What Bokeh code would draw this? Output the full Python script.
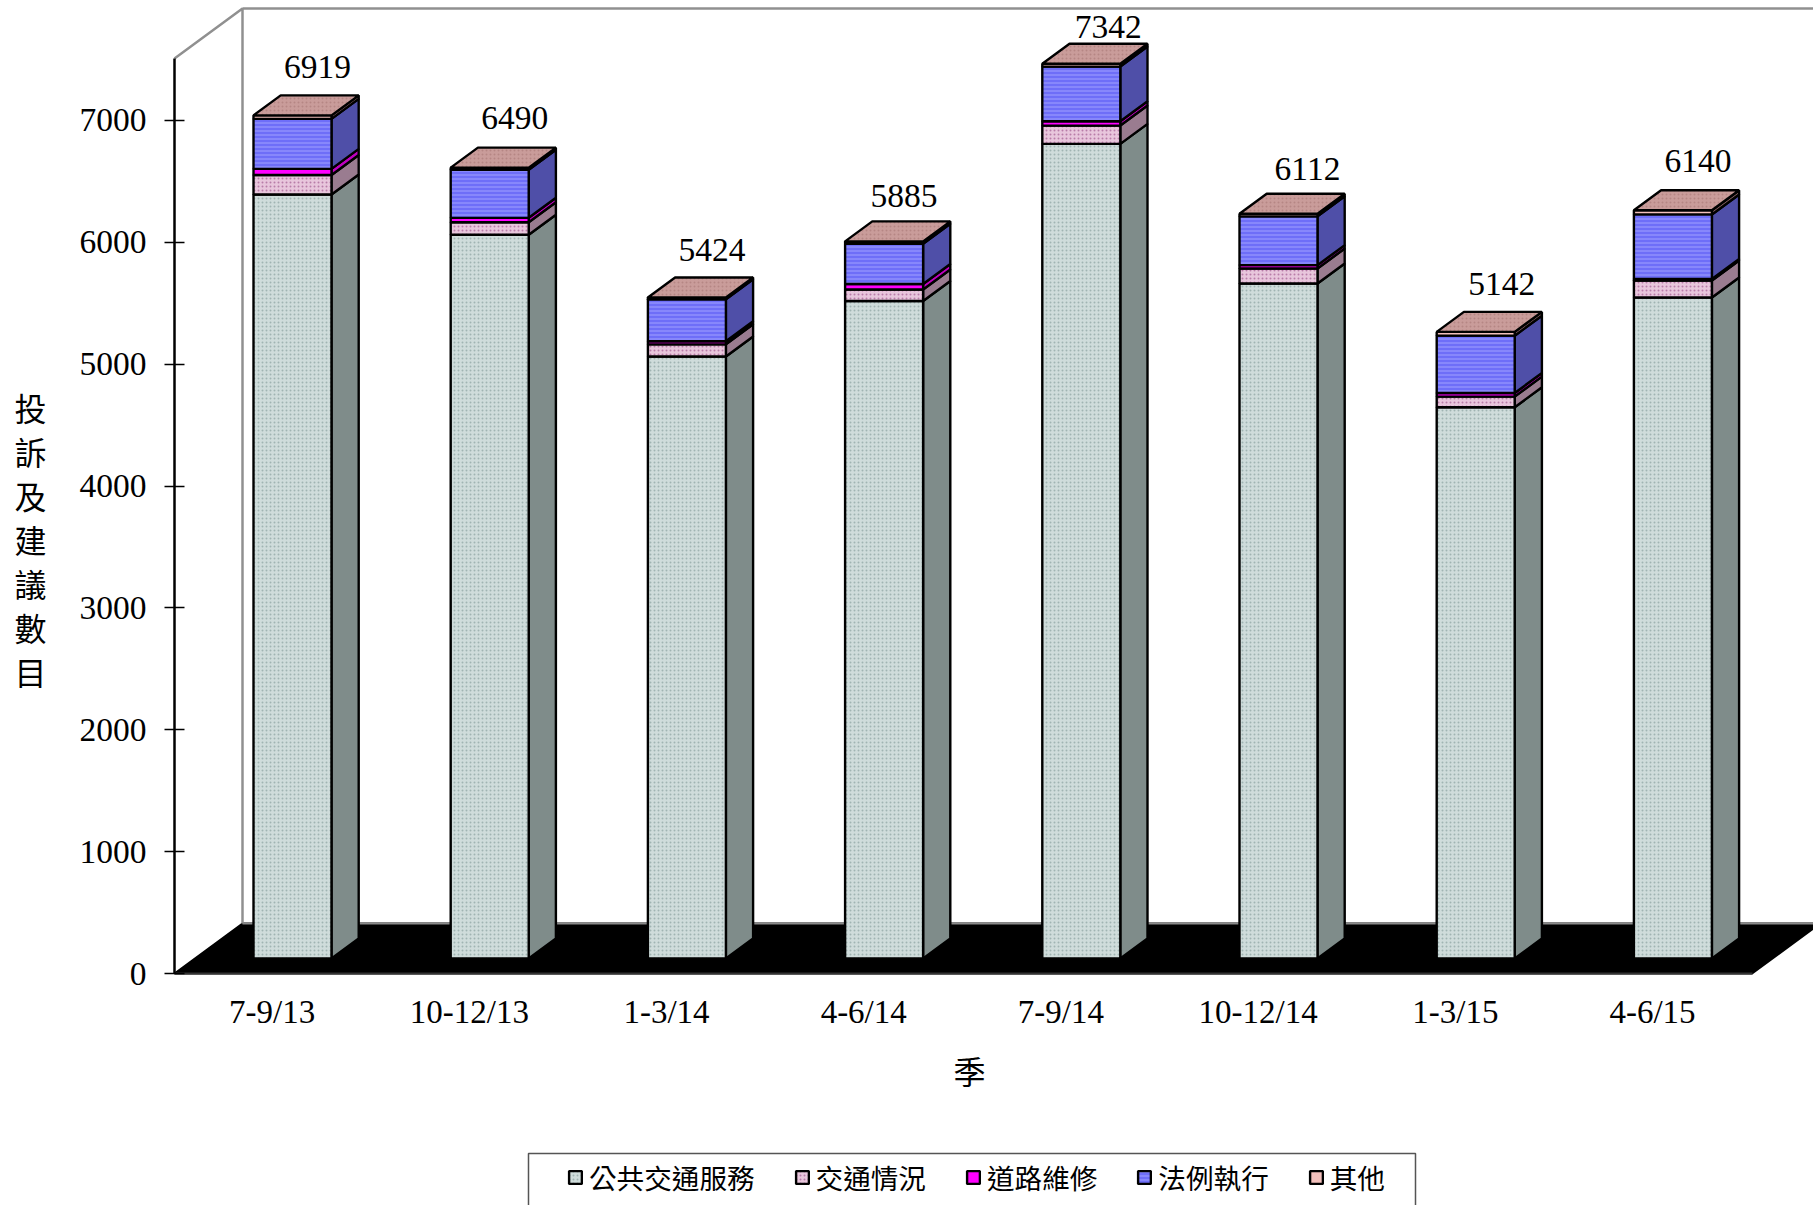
import numpy as np
from bokeh.core.properties import value
from bokeh.embed import file_html
from bokeh.models import FixedTicker, Legend, LegendItem, Range1d
from bokeh.plotting import figure
from bokeh.resources import INLINE

# Quarterly complaints and suggestions, by category
quarters = ["7-9/13", "10-12/13", "1-3/14", "4-6/14", "7-9/14", "10-12/14", "1-3/15", "4-6/15"]
public_transport = [6270, 5939, 4940, 5395, 6685, 5539, 4524, 5424]
traffic_conditions = [160, 103, 100, 95, 150, 123, 87, 140]
road_maintenance = [50, 36, 25, 45, 35, 28, 30, 12]
law_enforcement = [410, 394, 345, 330, 449, 400, 470, 530]
others = [29, 18, 14, 20, 23, 22, 31, 34]
y_ticks = [0, 1000, 2000, 3000, 4000, 5000, 6000, 7000]

series = [
    ("公共交通服務", public_transport, "#CFDCDB", "#7F8C8A", "dot", "#A0B4B2"),
    ("交通情況", traffic_conditions, "#E8C6DC", "#9A7C90", "dot", "#B87CA8"),
    ("道路維修", road_maintenance, "#FF00FF", "#C000C0", None, None),
    ("法例執行", law_enforcement, "#6E6EF8", "#4F4FA8", "horizontal_line", "#A0A0FF"),
    ("其他", others, "#F3C0BC", "#8A6464", None, None),
]

# Hand placement of the total labels, in pixels
label_nudge_x = [-1, -1, -1, -6, 1, 3, 0, -1]
label_nudge_y = [-1, -3, -1, 2, -1, 2, -1, -2]

WIDTH, HEIGHT = 1813, 1205
PX_PER_CATEGORY = 197.2
PX_PER_UNIT = 0.12186
ORIGIN_X, ORIGIN_Y = 174, 973

x_scale = lambda px: (px - ORIGIN_X) / PX_PER_CATEGORY
y_scale = lambda py: (ORIGIN_Y - py) / PX_PER_UNIT

p = figure(
    width=WIDTH, height=HEIGHT, output_backend="svg", toolbar_location=None,
    x_range=Range1d(x_scale(0), x_scale(WIDTH)),
    y_range=Range1d(y_scale(HEIGHT), y_scale(0)),
    min_border=0, outline_line_color=None,
)
p.grid.visible = False

# Oblique floor and walls
n = len(quarters)
depth_x, depth_y = 68 / PX_PER_CATEGORY, 50 / PX_PER_UNIT
wall_top = 7509
p.patch([0, depth_x, n + depth_x, n], [0, depth_y, depth_y, 0],
        fill_color="black", line_color="black", line_width=2)
p.line([0, depth_x, depth_x], [wall_top, wall_top + depth_y, depth_y],
       line_color="#909090", line_width=2.5)
p.line([depth_x, n + depth_x], [wall_top + depth_y] * 2, line_color="#909090", line_width=2.5)
p.line([depth_x, n + depth_x], [depth_y] * 2, line_color="#8A8A8A", line_width=2)

# Stacked prisms: each bar stands in the middle 40% of the floor depth
bar_width = 78 / PX_PER_CATEGORY
front_shift_x, front_shift_y = 0.3 * depth_x, 0.3 * depth_y
side_x, side_y = 0.4 * depth_x, 0.4 * depth_y
lefts = np.arange(n) + 0.5 + front_shift_x - bar_width / 2 - 1 / PX_PER_CATEGORY
rights = lefts + bar_width
bottoms = np.full(n, front_shift_y, dtype=float)

legend_items = []
for name, values, front, side, hatch, hatch_color in series:
    tops = bottoms + np.array(values, dtype=float)
    p.patches(
        [[r, r + side_x, r + side_x, r] for r in rights],
        [[b, b + side_y, t + side_y, t] for b, t in zip(bottoms, tops)],
        fill_color=side, line_color="black", line_width=2.4,
    )
    hatch_args = {}
    if hatch:
        hatch_args = dict(hatch_pattern=hatch, hatch_color=hatch_color, hatch_scale=4, hatch_weight=1)
    face = p.quad(left=lefts, right=rights, bottom=bottoms, top=tops,
                  fill_color=front, line_color="black", line_width=2.4, **hatch_args)
    legend_items.append(LegendItem(label=value(name), renderers=[face]))
    bottoms = tops

# Cap of the whole stack
p.patches(
    [[l, l + side_x, r + side_x, r] for l, r in zip(lefts, rights)],
    [[t, t + side_y, t + side_y, t] for t in bottoms],
    fill_color="#C99C9A", line_color="black", line_width=2.4,
    hatch_pattern="dot", hatch_color="#B58684", hatch_scale=4, hatch_weight=1,
)

# Quarterly totals above each stack
totals = np.array(public_transport) + np.array(traffic_conditions) + np.array(road_maintenance) \
    + np.array(law_enforcement) + np.array(others)
label_y = np.minimum(front_shift_y + totals + side_y + 27 / PX_PER_UNIT, y_scale(27))
p.text(lefts + bar_width / 2 + 26 / PX_PER_CATEGORY, label_y, text=[str(t) for t in totals],
       x_offset=label_nudge_x, y_offset=label_nudge_y,
       text_font=value("Liberation Serif"), text_font_size="33.5px", text_color="black",
       text_align="center", text_baseline="middle")

# Axes
p.yaxis.fixed_location = 0
p.yaxis.bounds = (0, wall_top)
p.yaxis.ticker = FixedTicker(ticks=y_ticks)
p.yaxis.major_tick_in = 10
p.yaxis.major_tick_out = 10
p.yaxis.major_tick_line_color = "black"
p.yaxis.major_tick_line_width = 1.5
p.yaxis.minor_tick_line_color = None
p.yaxis.axis_line_color = "black"
p.yaxis.axis_line_width = 2.5
p.yaxis.major_label_standoff = 18
p.yaxis.major_label_text_font = "Liberation Serif"
p.yaxis.major_label_text_font_size = "33.5px"
p.yaxis.major_label_text_color = "black"

tick_positions = [i + 0.495 for i in range(n)]
p.xaxis.fixed_location = 0
p.xaxis.bounds = (0, n)
p.xaxis.ticker = FixedTicker(ticks=tick_positions)
p.xaxis.major_label_overrides = dict(zip(tick_positions, quarters))
p.xaxis.major_tick_line_color = None
p.xaxis.minor_tick_line_color = None
p.xaxis.axis_line_color = "#333333"
p.xaxis.axis_line_width = 2
p.xaxis.major_label_standoff = 14
p.xaxis.major_label_text_font = "Liberation Serif"
p.xaxis.major_label_text_font_size = "33px"
p.xaxis.major_label_text_color = "black"

# Axis titles
cjk = value("Noto Sans CJK TC")
y_title = "投訴及建議數目"
p.text([x_scale(30)] * len(y_title), [y_scale(406 + 44 * i) for i in range(len(y_title))],
       text=list(y_title), text_font=cjk, text_font_size="32px", text_color="black",
       text_align="center", text_baseline="middle")
p.text([x_scale(969)], [y_scale(1069)], text=["季"], text_font=cjk, text_font_size="32px",
       text_color="black", text_align="center", text_baseline="middle")

# Legend frame runs off the bottom of the page
p.line([x_scale(528), x_scale(528), x_scale(1415), x_scale(1415)],
       [y_scale(1210), y_scale(1153), y_scale(1153), y_scale(1210)],
       line_color="#555555", line_width=1.5)
legend = Legend(
    items=legend_items, orientation="horizontal", location=(567, 8),
    padding=0, margin=0, spacing=39, label_standoff=6, glyph_width=16, glyph_height=16,
    border_line_color=None, background_fill_color=None,
    label_text_font="Noto Sans CJK TC", label_text_font_size="27.6px", label_text_color="black",
)
p.add_layout(legend, "center")

open("out.html", "w").write(file_html(p, INLINE))
